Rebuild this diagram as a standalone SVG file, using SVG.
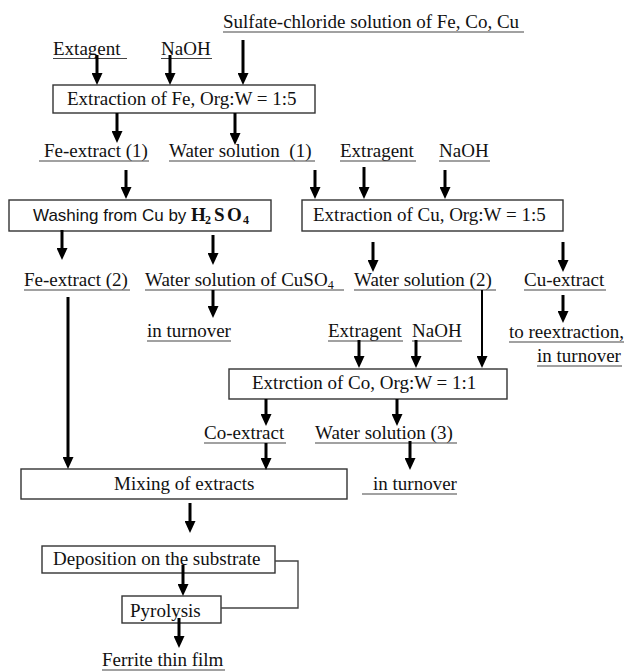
<svg xmlns="http://www.w3.org/2000/svg" width="624" height="672" viewBox="0 0 624 672">
<style>
text{font-family:"Liberation Serif","Times New Roman",serif;font-size:19px;fill:#111}
.box{fill:#fff;stroke:#333;stroke-width:1.4}
.ul{stroke:#444;stroke-width:1.2;fill:none}
.ar{stroke:#000;stroke-width:3;fill:none;marker-end:url(#ah)}
.ar2{stroke:#000;stroke-width:2;fill:none;marker-end:url(#ah)}
.fb{stroke:#444;stroke-width:1.4;fill:none}
.sans{font-family:"Liberation Sans",Arial,sans-serif;font-size:17px}
.bold{font-weight:bold}
.sub{font-size:12px}
</style>
<defs>
<marker id="ah" markerUnits="userSpaceOnUse" markerWidth="12" markerHeight="11" refX="4" refY="5.5" orient="auto">
<path d="M0,0 L12,5.5 L0,11 z" fill="#000"/>
</marker>
</defs>
<rect width="624" height="672" fill="#fff"/>

<g id="n-feed"><text x="223" y="28">Sulfate-chloride solution of Fe, Co, Cu</text><line class="ul" x1="223" y1="32" x2="524" y2="32"/></g>
<g id="n-extagent1"><text x="53" y="55">Extagent</text><line class="ul" x1="53" y1="58.5" x2="127" y2="58.5"/></g>
<g id="n-naoh1"><text x="161" y="55">NaOH</text><line class="ul" x1="161" y1="58.5" x2="212" y2="58.5"/></g>
<g id="n-exfe"><rect class="box" x="53" y="85" width="262" height="28"/><text x="67" y="105">Extraction of Fe, Org:W = 1:5</text></g>
<g id="n-feext1"><text x="44" y="157">Fe-extract (1)</text><line class="ul" x1="39" y1="161" x2="149" y2="161"/></g>
<g id="n-water1"><text x="169" y="157" xml:space="preserve">Water solution  (1)</text><line class="ul" x1="169" y1="161" x2="315" y2="161"/></g>
<g id="n-extragent2"><text x="340" y="157">Extragent</text><line class="ul" x1="340" y1="161" x2="416" y2="161"/></g>
<g id="n-naoh2"><text x="439" y="157">NaOH</text><line class="ul" x1="439" y1="161" x2="490" y2="161"/></g>
<g id="n-wash"><rect class="box" x="9" y="200" width="262" height="31"/>
<text class="sans" x="33" y="221">Washing from Cu by </text>
<text class="bold" x="191" y="221">H</text><text class="bold sub" x="205" y="224">2</text><text class="bold" x="214" y="221">S</text><text class="bold" x="227" y="221">O</text><text class="bold sub" x="243" y="224">4</text></g>
<g id="n-excu"><rect class="box" x="302" y="200" width="261" height="31"/><text x="313" y="221">Extraction of Cu, Org:W = 1:5</text></g>
<g id="n-feext2"><text x="24" y="286">Fe-extract (2)</text><line class="ul" x1="24" y1="290" x2="130" y2="290"/></g>
<g id="n-cuso4"><text x="145" y="286">Water solution of CuSO<tspan class="sub" dy="3">4</tspan></text><line class="ul" x1="145" y1="290" x2="344" y2="290"/></g>
<g id="n-water2"><text x="354" y="286">Water solution (2)</text><line class="ul" x1="354" y1="290" x2="496" y2="290"/></g>
<g id="n-cuext"><text x="524" y="286">Cu-extract</text><line class="ul" x1="524" y1="290" x2="606" y2="290"/></g>
<g id="n-turn1"><text x="147" y="337">in turnover</text><line class="ul" x1="147" y1="341" x2="231" y2="341"/></g>
<g id="n-reext"><text x="509" y="338">to reextraction,</text><line class="ul" x1="509" y1="342" x2="624" y2="342"/><text x="537" y="362">in turnover</text><line class="ul" x1="537" y1="366" x2="622" y2="366"/></g>
<g id="n-extragent3"><text x="328" y="337">Extragent</text><line class="ul" x1="328" y1="341" x2="403" y2="341"/></g>
<g id="n-naoh3"><text x="412" y="337">NaOH</text><line class="ul" x1="412" y1="341" x2="462" y2="341"/></g>
<g id="n-exco"><rect class="box" x="229" y="369" width="278" height="30"/><text x="252" y="389">Extrction of Co, Org:W = 1:1</text></g>
<g id="n-coext"><text x="204" y="439">Co-extract</text><line class="ul" x1="204" y1="443" x2="286" y2="443"/></g>
<g id="n-water3"><text x="315" y="439">Water solution (3)</text><line class="ul" x1="315" y1="443" x2="457" y2="443"/></g>
<g id="n-mix"><rect class="box" x="21" y="469" width="326" height="30"/><text x="114" y="490">Mixing of extracts</text></g>
<g id="n-turn3"><text x="373" y="490">in turnover</text><line class="ul" x1="362" y1="494" x2="457" y2="494"/></g>
<g id="n-depo"><rect class="box" x="42" y="546" width="233" height="27"/><text x="53" y="565">Deposition on the substrate</text></g>
<g id="n-pyro"><rect class="box" x="122" y="596" width="99" height="27"/><text x="130" y="617">Pyrolysis</text></g>
<g id="n-ferrite"><text x="102" y="666">Ferrite thin film</text><line class="ul" x1="102" y1="670" x2="225" y2="670"/></g>

<g id="connectors">
<line class="ar" x1="97" y1="55" x2="97" y2="77"/>
<line class="ar" x1="170" y1="55" x2="170" y2="77"/>
<line class="ar" x1="243" y1="40" x2="243" y2="77"/>
<line class="ar" x1="117" y1="113" x2="117" y2="135"/>
<line class="ar" x1="235" y1="113" x2="235" y2="137"/>
<line class="ar" x1="126" y1="170" x2="126" y2="191"/>
<line class="ar" x1="315" y1="170" x2="315" y2="191"/>
<line class="ar" x1="364" y1="167" x2="364" y2="191"/>
<line class="ar" x1="445" y1="170" x2="445" y2="191"/>
<line class="ar" x1="62" y1="230" x2="62" y2="252"/>
<line class="ar" x1="213" y1="235" x2="213" y2="257"/>
<line class="ar" x1="373" y1="242" x2="373" y2="264"/>
<line class="ar" x1="563" y1="242" x2="563" y2="264"/>
<line class="ar" x1="68" y1="297" x2="68" y2="461"/>
<line class="ar" x1="213" y1="290" x2="213" y2="310"/>
<line class="ar2" x1="482" y1="290" x2="482" y2="360"/>
<line class="ar" x1="563" y1="295" x2="563" y2="315"/>
<line class="ar" x1="359" y1="340" x2="359" y2="360"/>
<line class="ar" x1="416" y1="340" x2="416" y2="360"/>
<line class="ar" x1="266" y1="399" x2="266" y2="418"/>
<line class="ar" x1="397" y1="399" x2="397" y2="418"/>
<line class="ar" x1="266" y1="443" x2="266" y2="462"/>
<line class="ar" x1="410" y1="441" x2="410" y2="462"/>
<line class="ar" x1="190" y1="503" x2="190" y2="525"/>
<line class="ar" x1="183" y1="565" x2="183" y2="588"/>
<line class="ar" x1="179" y1="618" x2="179" y2="640"/>
<polyline class="fb" points="275,561 298,561 298,608 221,608"/>
</g>
</svg>
